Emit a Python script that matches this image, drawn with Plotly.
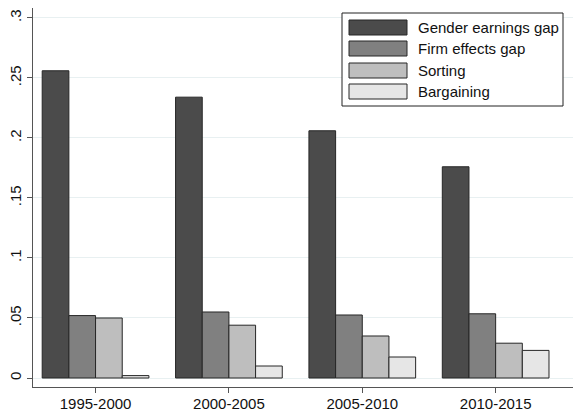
import plotly.graph_objects as go

periods = ["1995-2000", "2000-2005", "2005-2010", "2010-2015"]
series_names = ["Gender earnings gap", "Firm effects gap", "Sorting", "Bargaining"]
gender_gap = [0.256, 0.234, 0.206, 0.176]
firm_gap = [0.052, 0.055, 0.0525, 0.0535]
sorting = [0.050, 0.044, 0.035, 0.029]
bargaining = [0.002, 0.010, 0.0175, 0.023]
ytick_vals = [0, 0.05, 0.1, 0.15, 0.2, 0.25, 0.3]
ytick_text = ["0", ".05", ".1", ".15", ".2", ".25", ".3"]

colors = ["#4b4b4b", "#808080", "#bebebe", "#e6e6e6"]
edge = "#262626"
FONT = "Liberation Sans, Arial, Helvetica, sans-serif"

W, H = 573, 412
ML, MR, MT, MB = 33, 0, 8, 25
PW, PH = W - ML - MR, H - MT - MB

def px(x):
    return (x - ML) / PW

def py(y):
    return (H - MB - y) / PH

fig = go.Figure()
for name, vals, col in zip(series_names, [gender_gap, firm_gap, sorting, bargaining], colors):
    fig.add_trace(go.Bar(x=periods, y=vals, name=name, marker=dict(color=col, line=dict(color=edge, width=1)),
                         showlegend=False, hoverinfo="skip"))

shapes = []
annotations = []
# legend box
shapes.append(dict(type="rect", xref="paper", yref="paper", x0=px(342), x1=px(563), y0=py(106), y1=py(13),
                   line=dict(color="#222", width=1), fillcolor="white", layer="above"))
row_top = [20, 41, 63, 84]
for i, (name, col) in enumerate(zip(series_names, colors)):
    t = row_top[i]
    shapes.append(dict(type="rect", xref="paper", yref="paper", x0=px(349), x1=px(407), y0=py(t + 15), y1=py(t),
                       line=dict(color=edge, width=1), fillcolor=col, layer="above"))
    annotations.append(dict(xref="paper", yref="paper", x=px(416), y=py(t + 7.5), text=name, showarrow=False,
                            xanchor="left", yanchor="middle", font=dict(family=FONT, size=15, color="#111")))

fig.update_layout(
    width=W, height=H,
    margin=dict(l=ML, r=MR, t=MT, b=MB, pad=0, autoexpand=False),
    paper_bgcolor="white", plot_bgcolor="white",
    barmode="group", bargap=0.2, bargroupgap=0,
    font=dict(family=FONT, size=15, color="#111"),
    shapes=shapes, annotations=annotations,
    xaxis=dict(range=[-0.469, 3.58], showgrid=False, showline=True, linecolor="#555", linewidth=1,
               ticks="outside", ticklen=5, tickcolor="#555", tickfont=dict(size=15), zeroline=False,
               automargin=False, ticklabelstandoff=-2),
    yaxis=dict(range=[-0.0075, 0.3083], tickvals=ytick_vals, ticktext=ytick_text, tickangle=-90,
               showgrid=True, gridcolor="#e8f0f1", gridwidth=1, zeroline=False,
               showline=True, linecolor="#555", linewidth=1, ticks="outside", ticklen=5, tickcolor="#555",
               tickfont=dict(size=15), automargin=False),
)

fig.write_html("out.html", config={"displayModeBar": False},
               post_script="document.body.style.margin='0px';")
